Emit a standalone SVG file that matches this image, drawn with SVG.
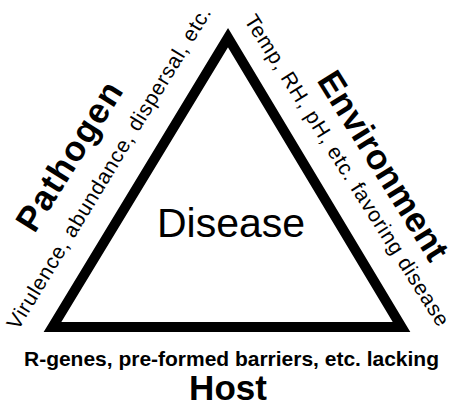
<svg xmlns="http://www.w3.org/2000/svg" width="450" height="403" viewBox="0 0 450 403">
<style>
.t{font-family:"Liberation Sans",Arial,sans-serif;fill:#000}
.b{font-weight:bold}
</style>
<rect width="450" height="403" fill="#fff"/>
<g id="connectors">
<path id="triangle" d="M52.5,327 L228,37.7 L401.5,327 Z" fill="none" stroke="#000" stroke-width="10" stroke-linejoin="miter"/>
</g>
<g id="disease">
<text class="t" x="231" y="237" font-size="41" text-anchor="middle">Disease</text>
</g>
<g id="pathogen">
<text class="t b" font-size="35" text-anchor="middle" textLength="169" lengthAdjust="spacing" transform="translate(79.2,162.5) rotate(-58)">Pathogen</text>
<text class="t" font-size="21" text-anchor="middle" textLength="373" lengthAdjust="spacing" transform="translate(114.9,171.6) rotate(-58.7)">Virulence, abundance, dispersal, etc.</text>
</g>
<g id="environment">
<text class="t b" font-size="35" text-anchor="middle" textLength="216" lengthAdjust="spacing" transform="translate(373.2,172) rotate(58.1)">Environment</text>
<text class="t" font-size="21" text-anchor="middle" textLength="364" lengthAdjust="spacing" transform="translate(341,174) rotate(57.7)">Temp, RH, pH, etc. favoring disease</text>
</g>
<g id="host">
<text class="t b" x="231.5" y="366" font-size="21" text-anchor="middle" textLength="415" lengthAdjust="spacing">R-genes, pre-formed barriers, etc. lacking</text>
<text class="t b" x="228" y="400" font-size="35" text-anchor="middle">Host</text>
</g>
</svg>
